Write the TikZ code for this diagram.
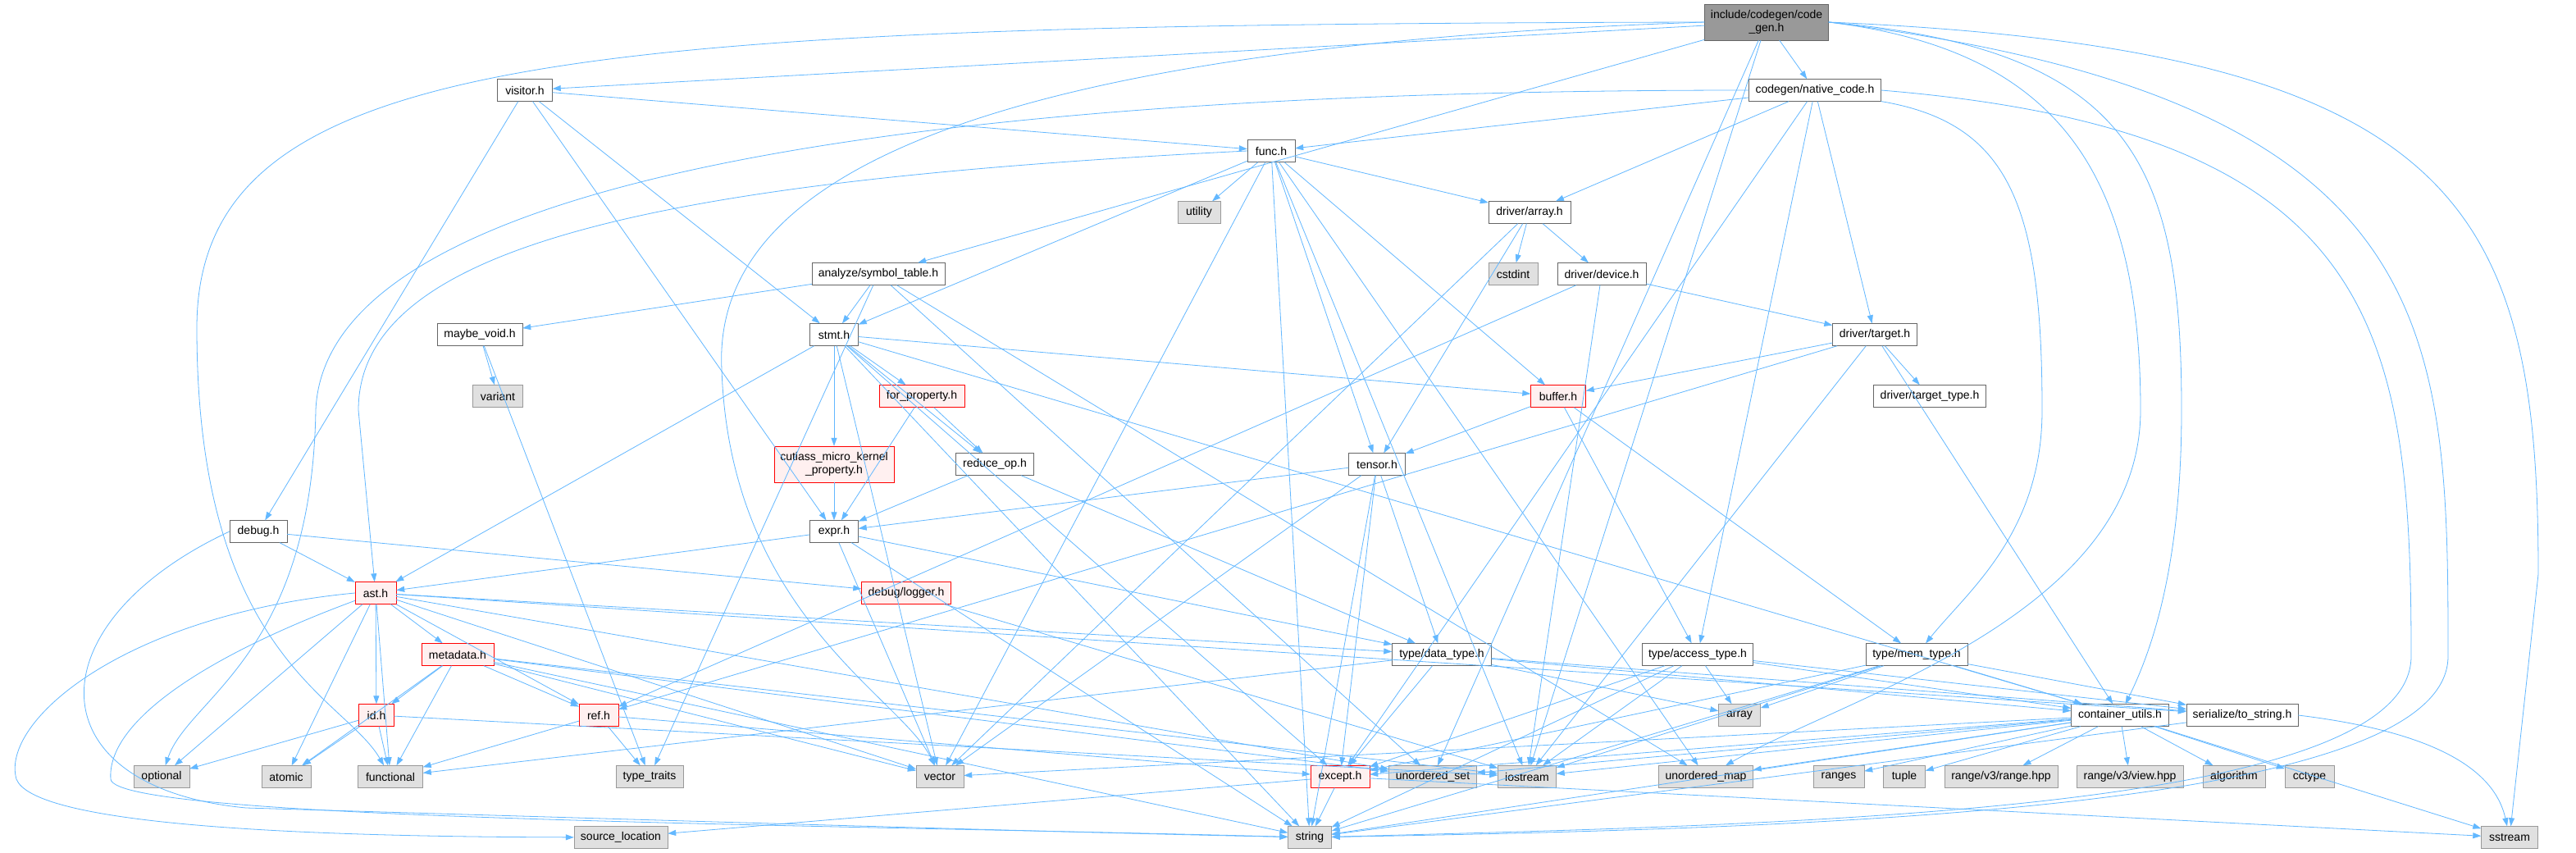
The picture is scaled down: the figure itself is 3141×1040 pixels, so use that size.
\documentclass[tikz,border=0pt]{standalone}
\usepackage{fontspec}
\setmainfont{Liberation Sans}
\usetikzlibrary{arrows.meta}
\definecolor{edgeblue}{HTML}{63B8FF}
\definecolor{boxgray}{HTML}{666666}
\definecolor{sysline}{HTML}{999999}
\definecolor{sysfill}{HTML}{E0E0E0}
\definecolor{redfill}{HTML}{FFF0F0}
\definecolor{topfill}{HTML}{999999}
\begin{document}
\begin{tikzpicture}[x=1pt, y=-1pt,
    hdr/.style={draw=boxgray, fill=white, text=black, minimum height=27, inner sep=1, font=\fontsize{14}{16}\selectfont},
    sys/.style={hdr, draw=sysline, fill=sysfill},
    bad/.style={hdr, draw=red, fill=redfill},
    mainfile/.style={hdr, fill=topfill, minimum height=44, align=center},
    dep/.style={color=edgeblue, line width=0.8pt, -{Triangle[length=10pt,width=7pt]}}]
    \fill[white] (0,0) rectangle (3141,1040);
    \useasboundingbox (0,0) rectangle (3141,1040);
    \node[mainfile, minimum width=151] (codegen) at (2154,27) {include/codegen/code\\\_gen.h};
    \node[hdr, minimum width=67] (visitor) at (640,110) {visitor.h};
    \node[hdr, minimum width=161] (native) at (2213,110) {codegen/native\_code.h};
    \node[hdr, minimum width=58] (func) at (1550,184) {func.h};
    \node[sys, minimum width=52] (utility) at (1462,259) {utility};
    \node[hdr, minimum width=100] (drvarray) at (1865,259) {driver/array.h};
    \node[hdr, minimum width=162] (symtab) at (1071,334) {analyze/symbol\_table.h};
    \node[sys, minimum width=60] (cstdint) at (1845,334) {cstdint};
    \node[hdr, minimum width=108] (device) at (1953,334) {driver/device.h};
    \node[hdr, minimum width=104] (maybevoid) at (585,408) {maybe\_void.h};
    \node[hdr, minimum width=59] (stmt) at (1017,408) {stmt.h};
    \node[hdr, minimum width=103] (target) at (2286,408) {driver/target.h};
    \node[sys, minimum width=61] (variant) at (607,483) {variant};
    \node[bad, minimum width=104] (forprop) at (1124,483) {for\_property.h};
    \node[bad, minimum width=67] (buffer) at (1900,483) {buffer.h};
    \node[hdr, minimum width=137] (targettype) at (2353,483) {driver/target\_type.h};
    \node[bad, minimum width=146, minimum height=44, align=center] (cutlass) at (1017,566) {cutlass\_micro\_kernel\\\_property.h};
    \node[hdr, minimum width=95] (reduceop) at (1213,566) {reduce\_op.h};
    \node[hdr, minimum width=69] (tensor) at (1679,566) {tensor.h};
    \node[hdr, minimum width=70] (debug) at (315,648) {debug.h};
    \node[hdr, minimum width=59] (expr) at (1017,648) {expr.h};
    \node[bad, minimum width=50] (ast) at (458,723) {ast.h};
    \node[bad, minimum width=109] (logger) at (1105,723) {debug/logger.h};
    \node[bad, minimum width=88] (metadata) at (558,798) {metadata.h};
    \node[hdr, minimum width=121] (datatype) at (1758,798) {type/data\_type.h};
    \node[hdr, minimum width=135] (accesstype) at (2070,798) {type/access\_type.h};
    \node[hdr, minimum width=124] (memtype) at (2337,798) {type/mem\_type.h};
    \node[bad, minimum width=43] (id) at (459,872) {id.h};
    \node[bad, minimum width=48] (ref) at (730,872) {ref.h};
    \node[sys, minimum width=51] (stdarray) at (2121,872) {array};
    \node[hdr, minimum width=119] (cutils) at (2585,872) {container\_utils.h};
    \node[hdr, minimum width=136] (tostring) at (2734,872) {serialize/to\_string.h};
    \node[sys, minimum width=68] (optional) at (197,947) {optional};
    \node[sys, minimum width=60] (atomic) at (349,947) {atomic};
    \node[sys, minimum width=79] (functional) at (476,947) {functional};
    \node[sys, minimum width=82] (typetraits) at (792,947) {type\_traits};
    \node[sys, minimum width=58] (vector) at (1146,947) {vector};
    \node[bad, minimum width=72] (except) at (1634,947) {except.h};
    \node[sys, minimum width=107] (uset) at (1747,947) {unordered\_set};
    \node[sys, minimum width=71] (iostream) at (1862,947) {iostream};
    \node[sys, minimum width=115] (umap) at (2080,947) {unordered\_map};
    \node[sys, minimum width=62] (ranges) at (2242,947) {ranges};
    \node[sys, minimum width=51] (tuple) at (2322,947) {tuple};
    \node[sys, minimum width=138] (rangehpp) at (2440,947) {range/v3/range.hpp};
    \node[sys, minimum width=130] (viewhpp) at (2597,947) {range/v3/view.hpp};
    \node[sys, minimum width=76] (algorithm) at (2724,947) {algorithm};
    \node[sys, minimum width=60] (cctype) at (2816,947) {cctype};
    \node[sys, minimum width=114] (sourceloc) at (757,1021) {source\_location};
    \node[sys, minimum width=53] (string) at (1597,1021) {string};
    \node[sys, minimum width=69] (sstream) at (3060,1021) {sstream};
    \path[dep] (codegen) edge (visitor) edge (native) edge (symtab) edge (uset) edge (iostream);
    \draw[dep] (codegen.west) .. controls (700,30) and (240,60) .. (240,400) .. controls (240,800) and (420,850) .. (functional);
    \draw[dep] (codegen.west) .. controls (1100,60) and (870,250) .. (880,450) .. controls (890,750) and (1100,850) .. (vector);
    \draw[dep] (codegen.east) .. controls (2600,60) and (2660,200) .. (2660,500) .. controls (2660,700) and (2620,800) .. (cutils);
    \draw[dep] (codegen.east) .. controls (2500,60) and (2610,200) .. (2610,500) .. controls (2610,750) and (2250,850) .. (umap);
    \draw[dep] (codegen.east) .. controls (2980,120) and (2985,400) .. (2985,800) .. controls (2985,990) and (2200,1010) .. (string);
    \draw[dep] (codegen.east) .. controls (3000,60) and (3095,250) .. (3095,700) -- (sstream);
    \path[dep] (visitor) edge (func) edge (debug) edge (expr) edge (stmt);
    \path[dep] (native) edge (func) edge (drvarray) edge (target) edge (accesstype) edge (except);
    \draw[dep] (native.west) .. controls (1500,110) and (400,150) .. (385,500) .. controls (380,800) and (230,850) .. (optional);
    \draw[dep] (native) .. controls (2450,150) and (2490,250) .. (2490,500) .. controls (2490,650) and (2400,720) .. (memtype);
    \draw[dep] (native.east) .. controls (2900,160) and (2940,400) .. (2940,800) .. controls (2940,990) and (2200,1005) .. (string);
    \path[dep] (func) edge (utility) edge (drvarray) edge (stmt) edge (buffer) edge (tensor) edge (string) edge (vector) edge (iostream) edge (umap);
    \draw[dep] (func.west) .. controls (800,220) and (437,300) .. (437,500) -- (ast);
    \path[dep] (drvarray) edge (cstdint) edge (device) edge (tensor) edge (vector);
    \path[dep] (device) edge (target) edge (ref) edge (iostream);
    \path[dep] (target) edge (targettype) edge (buffer) edge (ref) edge (cutils) edge (iostream);
    \path[dep] (symtab) edge (maybevoid) edge (stmt) edge (typetraits) edge (uset) edge (umap);
    \path[dep] (maybevoid) edge (variant) edge (typetraits);
    \path[dep] (stmt) edge (ast) edge (forprop) edge (cutlass) edge (reduceop) edge (buffer) edge (cutils) edge (except) edge (vector) edge (string);
    \path[dep] (forprop) edge (expr) edge (reduceop);
    \path[dep] (cutlass) edge (expr);
    \path[dep] (reduceop) edge (expr) edge (datatype);
    \path[dep] (tensor) edge (expr) edge (datatype) edge (except) edge (string) edge (vector);
    \path[dep] (buffer) edge (tensor) edge (accesstype) edge (memtype);
    \path[dep] (expr) edge (ast) edge (datatype) edge (vector) edge (string);
    \path[dep] (debug) edge (ast) edge (logger);
    \draw[dep] (debug.west) .. controls (40,760) and (40,960) .. (300,985) .. controls (800,1000) and (1300,1015) .. (string);
    \path[dep] (ast) edge (metadata) edge (id) edge (ref) edge (optional) edge (atomic) edge (functional) edge (datatype) edge (tostring) edge (uset) edge (vector);
    \draw[dep] (ast.west) .. controls (150,750) and (0,880) .. (20,950) .. controls (40,1000) and (300,1020) .. (sourceloc);
    \draw[dep] (ast) .. controls (250,800) and (130,880) .. (135,950) .. controls (140,1000) and (1000,1005) .. (string);
    \path[dep] (metadata) edge (id) edge (ref) edge (atomic) edge (functional) edge (string) edge (iostream) edge (uset) edge (vector);
    \path[dep] (id) edge (optional) edge (atomic) edge (functional) edge (iostream);
    \path[dep] (ref) edge (functional) edge (typetraits) edge (except);
    \path[dep] (logger) edge (iostream);
    \path[dep] (datatype) edge (except) edge (stdarray) edge (cutils) edge (tostring) edge (functional);
    \path[dep] (accesstype) edge (stdarray) edge (cutils) edge (tostring) edge (except) edge (iostream) edge (string);
    \path[dep] (memtype) edge (stdarray) edge (cutils) edge (tostring) edge (except) edge (string) edge (iostream);
    \path[dep] (cutils) edge (vector) edge (except) edge (uset) edge (iostream) edge (umap) edge (string) edge (ranges) edge (tuple) edge (rangehpp) edge (viewhpp) edge (algorithm) edge (cctype) edge (sstream);
    \path[dep] (tostring) edge (string);
    \draw[dep] (tostring.east) .. controls (2950,890) and (3040,930) .. (sstream);
    \path[dep] (except) edge (sourceloc) edge (string) edge (sstream);
\end{tikzpicture}
\end{document}
